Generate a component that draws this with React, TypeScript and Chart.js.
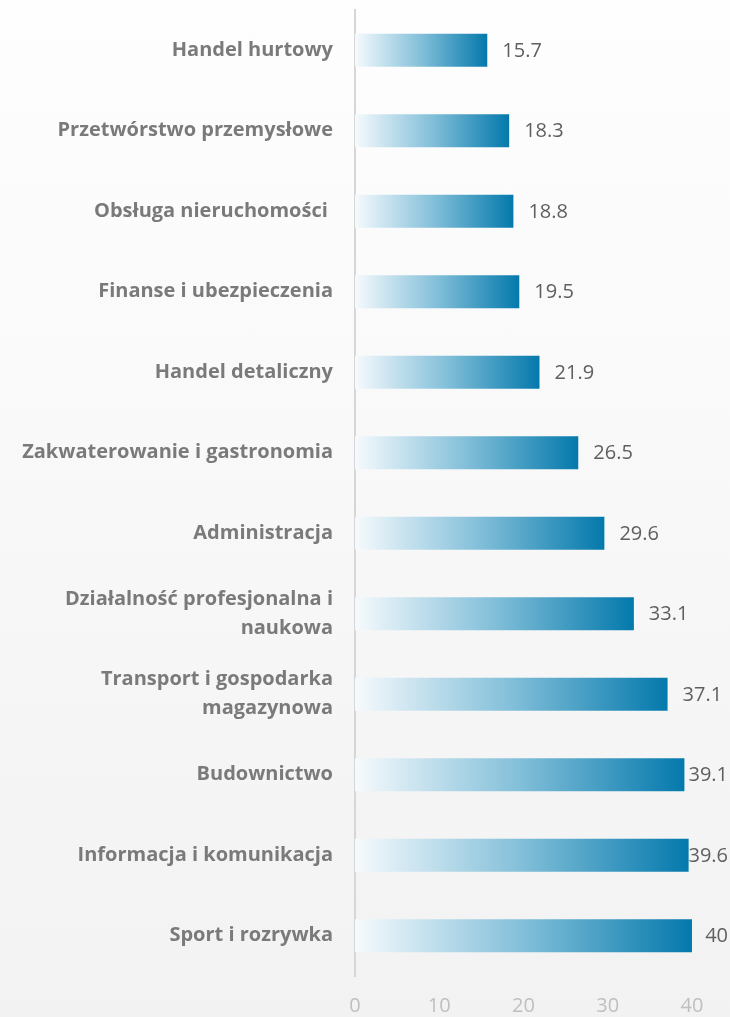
import React, { useEffect, useRef } from "react";
import { Chart, registerables } from "chart.js";

Chart.register(...registerables);

const categories: (string | string[])[] = [
  "Handel hurtowy",
  "Przetwórstwo przemysłowe",
  "Obsługa nieruchomości ",
  "Finanse i ubezpieczenia",
  "Handel detaliczny",
  "Zakwaterowanie i gastronomia",
  "Administracja",
  ["Działalność profesjonalna i", "naukowa"],
  ["Transport i gospodarka", "magazynowa"],
  "Budownictwo",
  "Informacja i komunikacja",
  "Sport i rozrywka",
];

const values: number[] = [15.7, 18.3, 18.8, 19.5, 21.9, 26.5, 29.6, 33.1, 37.1, 39.1, 39.6, 40];

const xTicks: number[] = [0, 10, 20, 30, 40];

const valueLabelsPlugin = {
  id: "valueLabels",
  beforeDatasetsDraw(chart: any) {
    const ctx = chart.ctx;
    const meta = chart.getDatasetMeta(0);
    ctx.save();
    ctx.font = "20px 'Open Sans', sans-serif";
    ctx.fillStyle = "#5f5f5f";
    ctx.textBaseline = "middle";
    ctx.textAlign = "left";
    meta.data.forEach((bar: any, i: number) => {
      const txt = String(values[i]);
      const w = ctx.measureText(txt).width;
      let x = bar.x + 15;
      if (x + w > chart.width - 2) x = chart.width - 2 - w;
      ctx.fillText(txt, x, bar.y + 1);
    });
    ctx.restore();
  },
};

export default function App() {
  const canvasRef = useRef<HTMLCanvasElement | null>(null);

  useEffect(() => {
    if (!canvasRef.current) return;
    const chart = new Chart(canvasRef.current, {
      type: "bar",
      data: {
        labels: categories,
        datasets: [
          {
            data: values,
            backgroundColor: (context: any) => {
              const c = context.chart;
              const area = c.chartArea;
              if (!area) return "#3a9cc6";
              const xs = c.scales.x;
              const v = values[context.dataIndex] ?? 0;
              const x0 = xs.getPixelForValue(0);
              const x1 = xs.getPixelForValue(v);
              const g = c.ctx.createLinearGradient(x0, 0, x1, 0);
              g.addColorStop(0, "#f6fafd");
              g.addColorStop(0.5, "#82bfd9");
              g.addColorStop(1, "#0479ac");
              return g;
            },
            borderWidth: 0,
            barPercentage: 0.82,
            categoryPercentage: 0.5,
          },
        ],
      },
      options: {
        indexAxis: "y",
        animation: false,
        responsive: false,
        maintainAspectRatio: false,
        layout: { padding: { top: 10, right: 38, bottom: 0, left: 0 } },
        plugins: {
          legend: { display: false },
          tooltip: { enabled: false },
        },
        scales: {
          x: {
            min: 0,
            max: 40,
            grid: { display: false, drawTicks: false },
            border: { display: false },
            afterBuildTicks: (axis: any) => {
              axis.ticks = xTicks.map((v) => ({ value: v }));
            },
            afterFit: (axis: any) => {
              axis.height = 41;
            },
            ticks: {
              color: "#bfbfbf",
              font: { family: "'Open Sans', sans-serif", size: 20 },
              padding: 18,
            },
          },
          y: {
            grid: { display: false, drawTicks: false },
            border: { display: true, color: "#d6d6d6", width: 2 },
            afterFit: (axis: any) => {
              axis.width = 355;
              axis.paddingTop = 0;
              axis.paddingBottom = 0;
            },
            ticks: {
              color: "#7a7a7a",
              font: { family: "'Open Sans', sans-serif", size: 20, weight: "bold", lineHeight: 1.45 },
              padding: 22,
              autoSkip: false,
            },
          },
        },
      },
      plugins: [valueLabelsPlugin],
    } as any);
    return () => chart.destroy();
  }, []);

  return (
    <div
      style={{
        position: "absolute",
        left: 0,
        top: 0,
        width: 730,
        height: 1017,
        background: "linear-gradient(to bottom, #fefefe 0%, #f2f2f2 100%)",
      }}
    >
      <canvas ref={canvasRef} width={730} height={1017} style={{ display: "block" }} />
    </div>
  );
}
